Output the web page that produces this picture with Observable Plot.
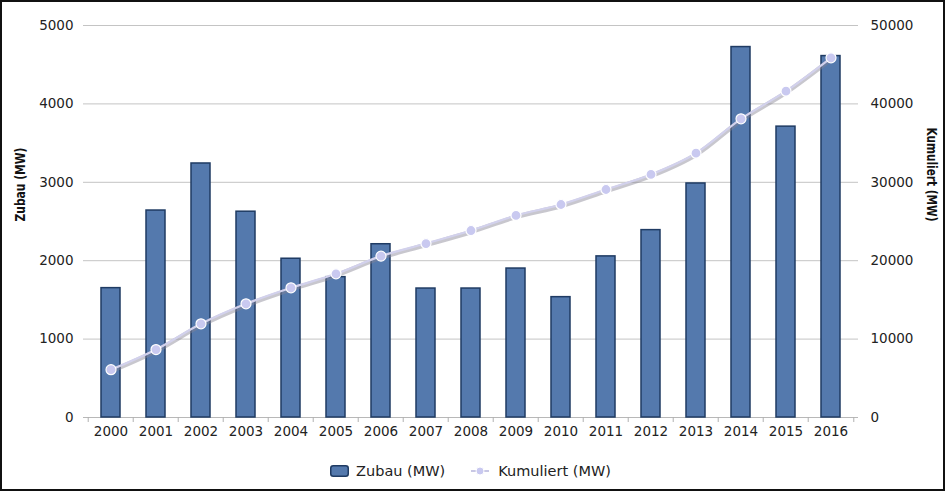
<!DOCTYPE html>
<html>
<head>
<meta charset="utf-8">
<script src="https://cdn.jsdelivr.net/npm/d3@7"></script>
<script src="https://cdn.jsdelivr.net/npm/@observablehq/plot@0.6"></script>
<style>
  html, body { margin: 0; padding: 0; background: #fff; }
  #frame { position: absolute; left: 0; top: 0; width: 941px; height: 487px; border: 2px solid #111; background: #fff; overflow: hidden; }
  #chart { position: absolute; left: 0; top: 0; }
  #legend { position: absolute; left: 0; top: 461px; width: 937px; display: flex; justify-content: center; align-items: center;
            font-family: "DejaVu Sans", sans-serif; font-size: 14.5px; color: #222; }
  #legend .item { display: flex; align-items: center; }
  #legend svg { display: block; }
</style>
</head>
<body>
<div id="frame">
  <div id="chart"></div>
  <div id="legend"></div>
</div>
<script>
// ---- data ----
const years = ["2000","2001","2002","2003","2004","2005","2006","2007","2008","2009","2010","2011","2012","2013","2014","2015","2016"];
const zubau = [1650, 2640, 3240, 2625, 2025, 1790, 2210, 1645, 1645, 1900, 1535, 2055, 2390, 2985, 4725, 3710, 4610];
const kumuliert = [6100, 8670, 11950, 14500, 16540, 18330, 20580, 22190, 23850, 25770, 27170, 29080, 31000, 33710, 38100, 41620, 45880];
const leftTicks = [0, 1000, 2000, 3000, 4000, 5000];
const rightTicks = [0, 10000, 20000, 30000, 40000, 50000];
const seriesNames = ["Zubau (MW)", "Kumuliert (MW)"];
const axisTitles = {left: "Zubau (MW)", right: "Kumuliert (MW)"};

// ---- styles ----
const barFill = "#5479ad", barStroke = "#1f3b63";
const lineColor = "#d2d1ec", shadowColor = "#858293", markerFill = "#c9c9f0";
const gridColor = "#c4c4c4";
const ratio = 10; // right axis / left axis

const table = years.map((y, i) => ({year: y, zubau: zubau[i], kum: kumuliert[i]}));

const W = 941, H = 440;
const mL = 81, mR = 85, mT = 23, mB = 25;
const bw = (W - mL - mR) / years.length;

const chart = Plot.plot({
  width: W, height: H,
  marginLeft: mL, marginRight: mR, marginTop: mT, marginBottom: mB,
  style: {fontFamily: "DejaVu Sans, sans-serif", fontSize: "13.5px", color: "#222", background: "transparent"},
  x: {type: "band", domain: years, padding: 0},
  y: {domain: [0, 5000]},
  marks: [
    Plot.gridY(leftTicks, {stroke: gridColor, strokeOpacity: 1, strokeWidth: 1}),
    Plot.ruleY([0], {stroke: "#b8b8b8", strokeWidth: 1}),
    Plot.axisY(leftTicks, {anchor: "left", tickSize: 0, tickPadding: 10, label: null, tickFormat: d => String(d), fill: "#222"}),
    Plot.axisY(rightTicks.map(d => d / ratio), {anchor: "right", tickSize: 0, tickPadding: 12, label: null, tickFormat: d => String(d * ratio), fill: "#222"}),
    Plot.axisX({tickSize: 0, tickPadding: 9, label: null, fill: "#222"}),
    Plot.axisX({tickSize: 5, text: null, label: null, dx: -bw / 2, stroke: "#b0b0b0"}),
    Plot.axisX([years[years.length - 1]], {tickSize: 5, text: null, label: null, dx: bw / 2, stroke: "#b0b0b0"}),
    Plot.barY(table, {x: "year", y: "zubau", fill: barFill, stroke: barStroke, strokeWidth: 1.5, insetLeft: 13, insetRight: 13}),
    Plot.line(table, {x: "year", y: d => d.kum / ratio, stroke: shadowColor, strokeOpacity: 0.45, strokeWidth: 4.5, dy: 1.5, curve: "monotone-x"}),
    Plot.line(table, {x: "year", y: d => d.kum / ratio, stroke: lineColor, strokeWidth: 2.2, curve: "monotone-x"}),
    Plot.dot(table, {x: "year", y: d => d.kum / ratio, r: 5, fill: markerFill, stroke: "#fff", strokeWidth: 1.2}),
    Plot.text([axisTitles.left], {frameAnchor: "left", dx: -63, rotate: -90, fontWeight: "bold", fontSize: 14.5, fill: "#111", text: d => d}),
    Plot.text([axisTitles.right], {frameAnchor: "right", dx: 73, rotate: 90, fontWeight: "bold", fontSize: 14.5, fill: "#111", text: d => d})
  ]
});
document.getElementById("chart").appendChild(chart);

// compress the rotated axis titles to match the reference lengths
chart.querySelectorAll("text").forEach(t => {
  if (t.textContent === axisTitles.left) { t.setAttribute("textLength", 74); t.setAttribute("lengthAdjust", "spacingAndGlyphs"); }
  if (t.textContent === axisTitles.right) { t.setAttribute("textLength", 94); t.setAttribute("lengthAdjust", "spacingAndGlyphs"); }
});

// ---- legend ----
const legend = document.getElementById("legend");
legend.innerHTML = `
  <div class="item">
    <svg width="19" height="12"><rect x="0.75" y="0.75" width="17.5" height="10.5" rx="2.5" fill="${barFill}" stroke="${barStroke}" stroke-width="1.5"/></svg>
    <span style="margin-left:7px">${seriesNames[0]}</span>
  </div>
  <div class="item" style="margin-left:26px">
    <svg width="18" height="12"><line x1="0" y1="6" x2="18" y2="6" stroke="#c8c7e4" stroke-width="2"/><circle cx="9" cy="6" r="4" fill="${markerFill}" stroke="#fff" stroke-width="1"/></svg>
    <span style="margin-left:9px">${seriesNames[1]}</span>
  </div>`;
</script>
</body>
</html>
